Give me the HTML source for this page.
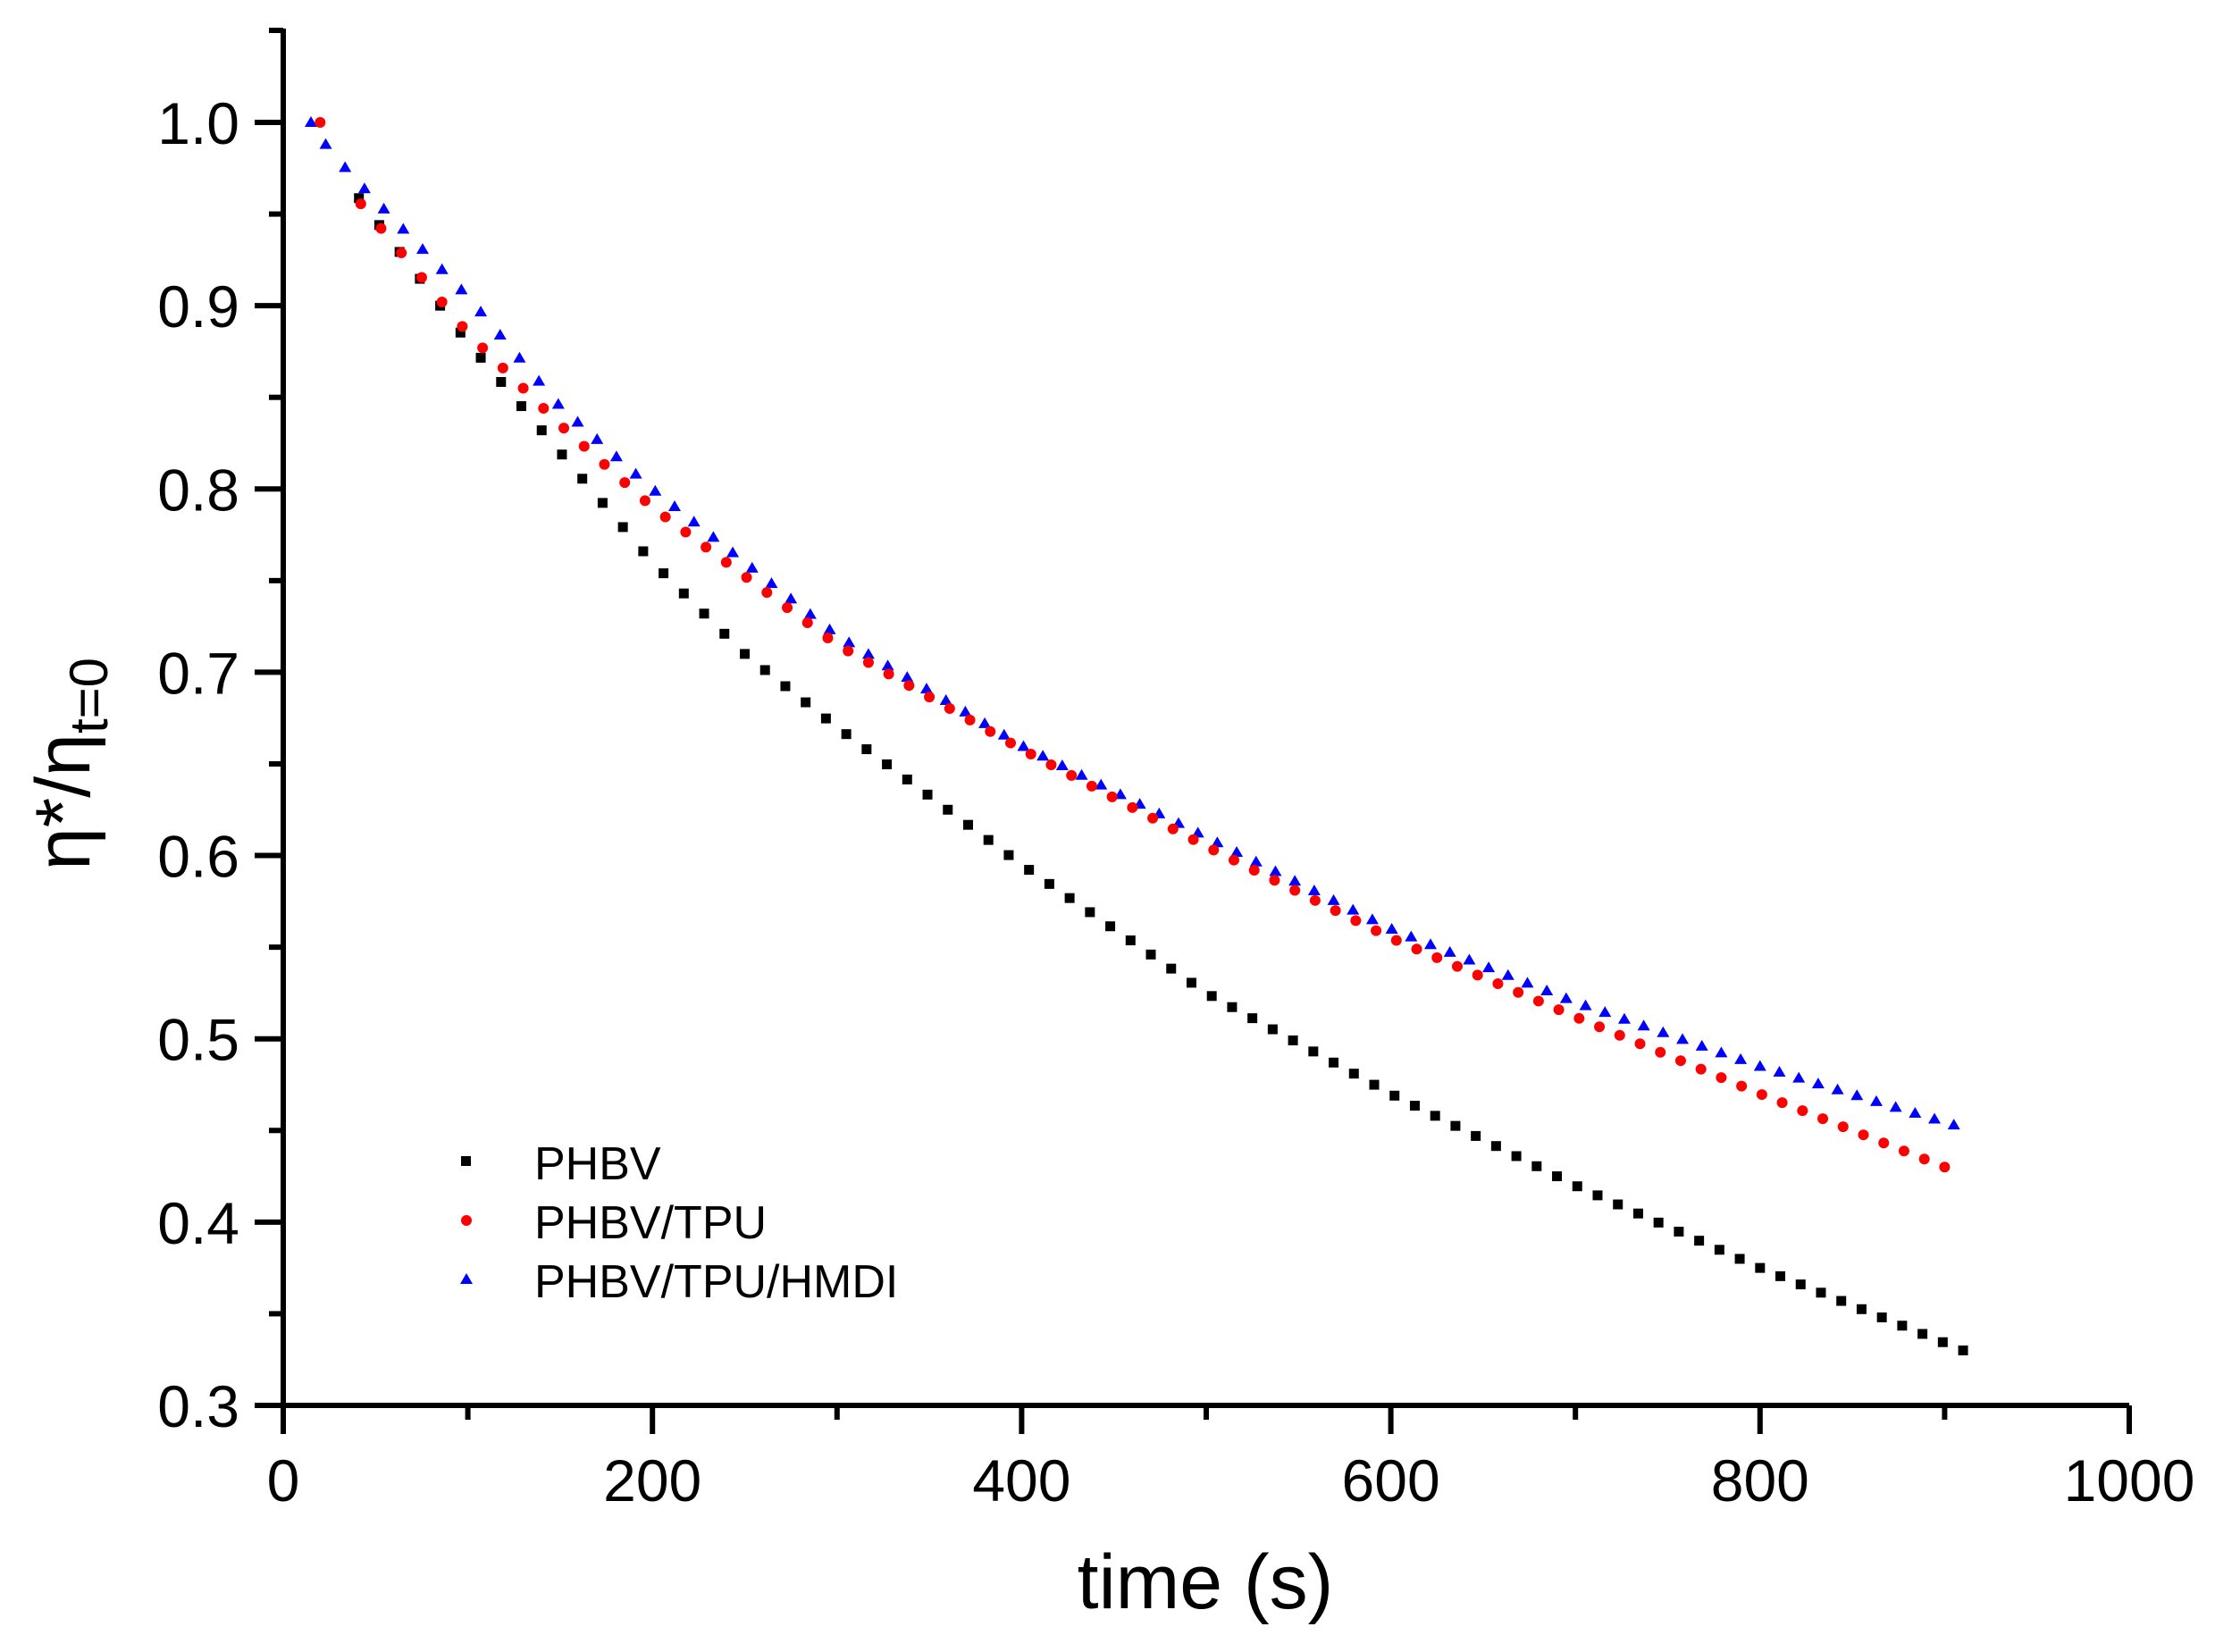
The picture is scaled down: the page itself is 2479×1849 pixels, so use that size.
<!DOCTYPE html>
<html><head><meta charset="utf-8"><style>
html,body{margin:0;padding:0;background:#fff;}
svg{display:block;}
text{font-family:"Liberation Sans",Arial,sans-serif;fill:#000;}
</style></head><body>
<svg id="s" width="2479" height="1849" viewBox="0 0 2479 1849" xmlns="http://www.w3.org/2000/svg">
<rect width="2479" height="1849" fill="#fff"/>
<g id="axes" stroke="#000" stroke-width="6" fill="none"></g>
<g id="lbl" font-size="66"></g>
<g id="pts"></g>
<text x="1349" y="1800" font-size="86" text-anchor="middle">time (s)</text>
<text transform="translate(100,855) rotate(-90)" font-size="86" text-anchor="middle">η*/η<tspan font-size="60" dy="20">t=0</tspan></text>
<rect x="516" y="1294" width="11" height="11" fill="#000"/>
<circle cx="522" cy="1366" r="6" fill="#f00"/>
<polygon points="522,1425 529,1437 515,1437" fill="#00f"/>
<text x="598" y="1320" font-size="52">PHBV</text>
<text x="598" y="1386" font-size="52">PHBV/TPU</text>
<text x="598" y="1452" font-size="52">PHBV/TPU/HMDI</text>
</svg>
<script>
var NS="http://www.w3.org/2000/svg";
function X(t){return 317+t*2.066;}
function Y(v){return 137+(1.0-v)*2051.4;}
function el(p,n,a){var e=document.createElementNS(NS,n);for(var k in a)e.setAttribute(k,a[k]);p.appendChild(e);return e;}
var ax=document.getElementById('axes'),lb=document.getElementById('lbl'),pts=document.getElementById('pts');
el(ax,'line',{x1:317,y1:32,x2:317,y2:1576});
el(ax,'line',{x1:314,y1:1573,x2:2383,y2:1573});
el(ax,'line',{x1:301,y1:34,x2:317,y2:34});
for(var i=0;i<=10;i++){var x=X(i*100);el(ax,'line',{x1:x,y1:1573,x2:x,y2:i%2==0?1605:1589});
 if(i%2==0){var t=el(lb,'text',{x:x,y:1680,'text-anchor':'middle'});t.textContent=String(i*100);}}
for(var i=0;i<=14;i++){var v=0.3+i*0.05,y=Y(v),maj=i%2==0;
 el(ax,'line',{x1:maj?285:301,y1:y,x2:317,y2:y});
 if(maj){var t=el(lb,'text',{x:268,y:y+24,'text-anchor':'end'});t.textContent=v.toFixed(1);}}
function interp(d,t){for(var i=1;i<d.length;i++){if(t<=d[i][0]){var a=d[i-1],b=d[i];return a[1]+(b[1]-a[1])*(t-a[0])/(b[0]-a[0]);}}return d[d.length-1][1];}
var blk=[[20,1.0],[40,0.96],[100,0.88],[150,0.82],[200,0.76],[250,0.71],[300,0.67],[400,0.595],[500,0.525],[600,0.47],[700,0.42],[800,0.375],[910,0.33]];
var red=[[20,1.0],[40,0.958],[100,0.885],[150,0.835],[200,0.79],[300,0.715],[400,0.658],[500,0.605],[600,0.555],[700,0.512],[800,0.47],[900,0.43]];
var blu=[[15,1.0],[25,0.985],[40,0.968],[100,0.905],[150,0.845],[200,0.8],[300,0.72],[400,0.66],[500,0.61],[600,0.56],[700,0.52],[800,0.485],[905,0.453]];
for(var t=910;t>=38;t-=11){el(pts,'rect',{x:X(t)-5.5,y:Y(interp(blk,t))-5.5,width:11,height:11,fill:'#000'});}
function tri(t){var x=X(t),y=Y(interp(blu,t));el(pts,'polygon',{points:(x)+','+(y-7)+' '+(x+7)+','+(y+5)+' '+(x-7)+','+(y+5),fill:'#00f'});}
for(var t=905;t>=20;t-=10.5){tri(t);}
tri(15);
for(var t=900;t>=38;t-=11){el(pts,'circle',{cx:X(t),cy:Y(interp(red,t)),r:6,fill:'#f00'});}
el(pts,'circle',{cx:X(20),cy:Y(1.0),r:6,fill:'#f00'});
</script>
</body></html>
